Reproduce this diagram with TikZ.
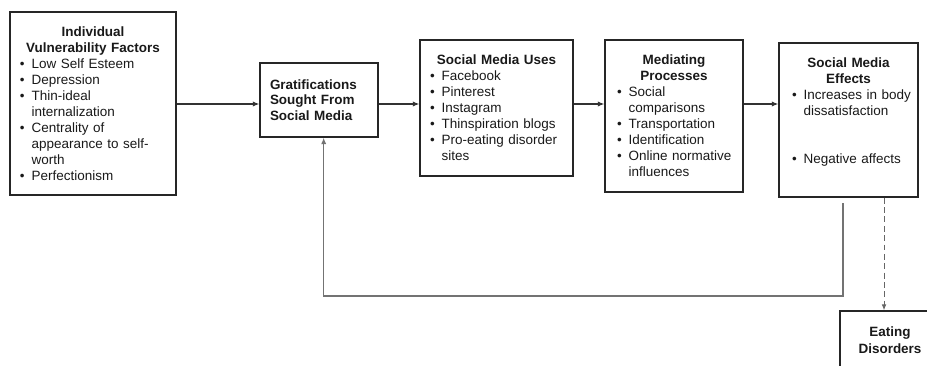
\documentclass[tikz,border=0pt]{standalone}
\usepackage{fontspec}
\setmainfont{Liberation Sans}
\usetikzlibrary{arrows.meta,positioning}
\setlength{\parindent}{0pt}
% bullet line, continuation line and centred heading
\newcommand{\bl}[1]{\hbox{\makebox[10pt][l]{\textbullet}#1}}
\newcommand{\cl}[1]{\hbox{\hspace*{10pt}#1}}
\newcommand{\hd}[1]{{\centering\bfseries #1\par}}

\begin{document}
\begin{tikzpicture}[x=0.03cm,y=-0.03cm,
    box/.style={draw=black!85,line width=1.2pt,rectangle,inner xsep=0.3cm,inner ysep=0pt,
      font=\fontsize{11.5}{13.7}\selectfont,text=black!90},
    arr/.style={draw=black!80,line width=0.9pt,-{Latex[length=5.5pt,width=4.5pt]}},
    fback/.style={draw=black!55,line width=1pt,-{Latex[length=5.5pt,width=4.5pt]}},
    dasharr/.style={draw=black!60,line width=0.8pt,dash pattern=on 5pt off 3pt,-{Latex[length=5pt,width=4pt]}}]
    \useasboundingbox (0,0) rectangle (927,365);
    \clip (0,0) rectangle (927,365);
    % Boxes
    \node[box, text width=4.38cm, minimum height=5.49cm] (ivf) at (93,103.5) {%
        \hd{Individual\\Vulnerability Factors}
        \bl{Low Self Esteem}
        \bl{Depression}
        \bl{Thin-ideal}
        \cl{internalization}
        \bl{Centrality of}
        \cl{appearance to self-}
        \cl{worth}
        \bl{Perfectionism}};
    \node[box, text width=2.94cm, minimum height=2.22cm, font=\fontsize{11.5}{13.2}\selectfont\bfseries] (gsm) at (319,100) {%
        \hbox{Gratifications}
        \hbox{Sought From}
        \hbox{Social Media}};
    \node[box, text width=3.99cm, minimum height=4.08cm] (smu) at (496.5,108) {%
        \hd{Social Media Uses}
        \bl{Facebook}
        \bl{Pinterest}
        \bl{Instagram}
        \bl{Thinspiration blogs}
        \bl{Pro-eating disorder}
        \cl{sites}};
    \node[box, inner xsep=0.36cm, text width=3.42cm, minimum height=4.56cm] (mp) at (674,116) {%
        \hd{Mediating\\Processes}
        \bl{Social}
        \cl{comparisons}
        \bl{Transportation}
        \bl{Identification}
        \bl{Online normative}
        \cl{influences}};
    \node[box, inner xsep=0.39cm, text width=3.39cm, minimum height=4.62cm] (sme) at (848.5,120) {%
        \hd{Social Media\\Effects}
        \bl{Increases in body}
        \cl{dissatisfaction}
        \vskip 2\baselineskip
        \bl{Negative affects}
        \vskip 2pt\hbox{}};
    \node[box, minimum width=3cm, minimum height=1.77cm, align=center, font=\fontsize{11.5}{14.5}\selectfont\bfseries] (ed) at (890,340.5) {Eating\\Disorders};

    % Arrows
    \coordinate (row) at (0,104);
    \coordinate (fbtop) at (843,203);
    \coordinate (fbbot) at (843,296);
    \coordinate (dsh) at (884,0);
    \draw[arr] (ivf.east |- row) -- (gsm.west |- row);
    \draw[arr] (gsm.east |- row) -- (smu.west |- row);
    \draw[arr] (smu.east |- row) -- (mp.west |- row);
    \draw[arr] (mp.east |- row) -- (sme.west |- row);
    \draw[fback] (fbtop) -- (fbbot) -| ([xshift=4pt]gsm.south);
    \draw[dasharr] (sme.south -| dsh) -- (ed.north -| dsh);
\end{tikzpicture}
\end{document}
